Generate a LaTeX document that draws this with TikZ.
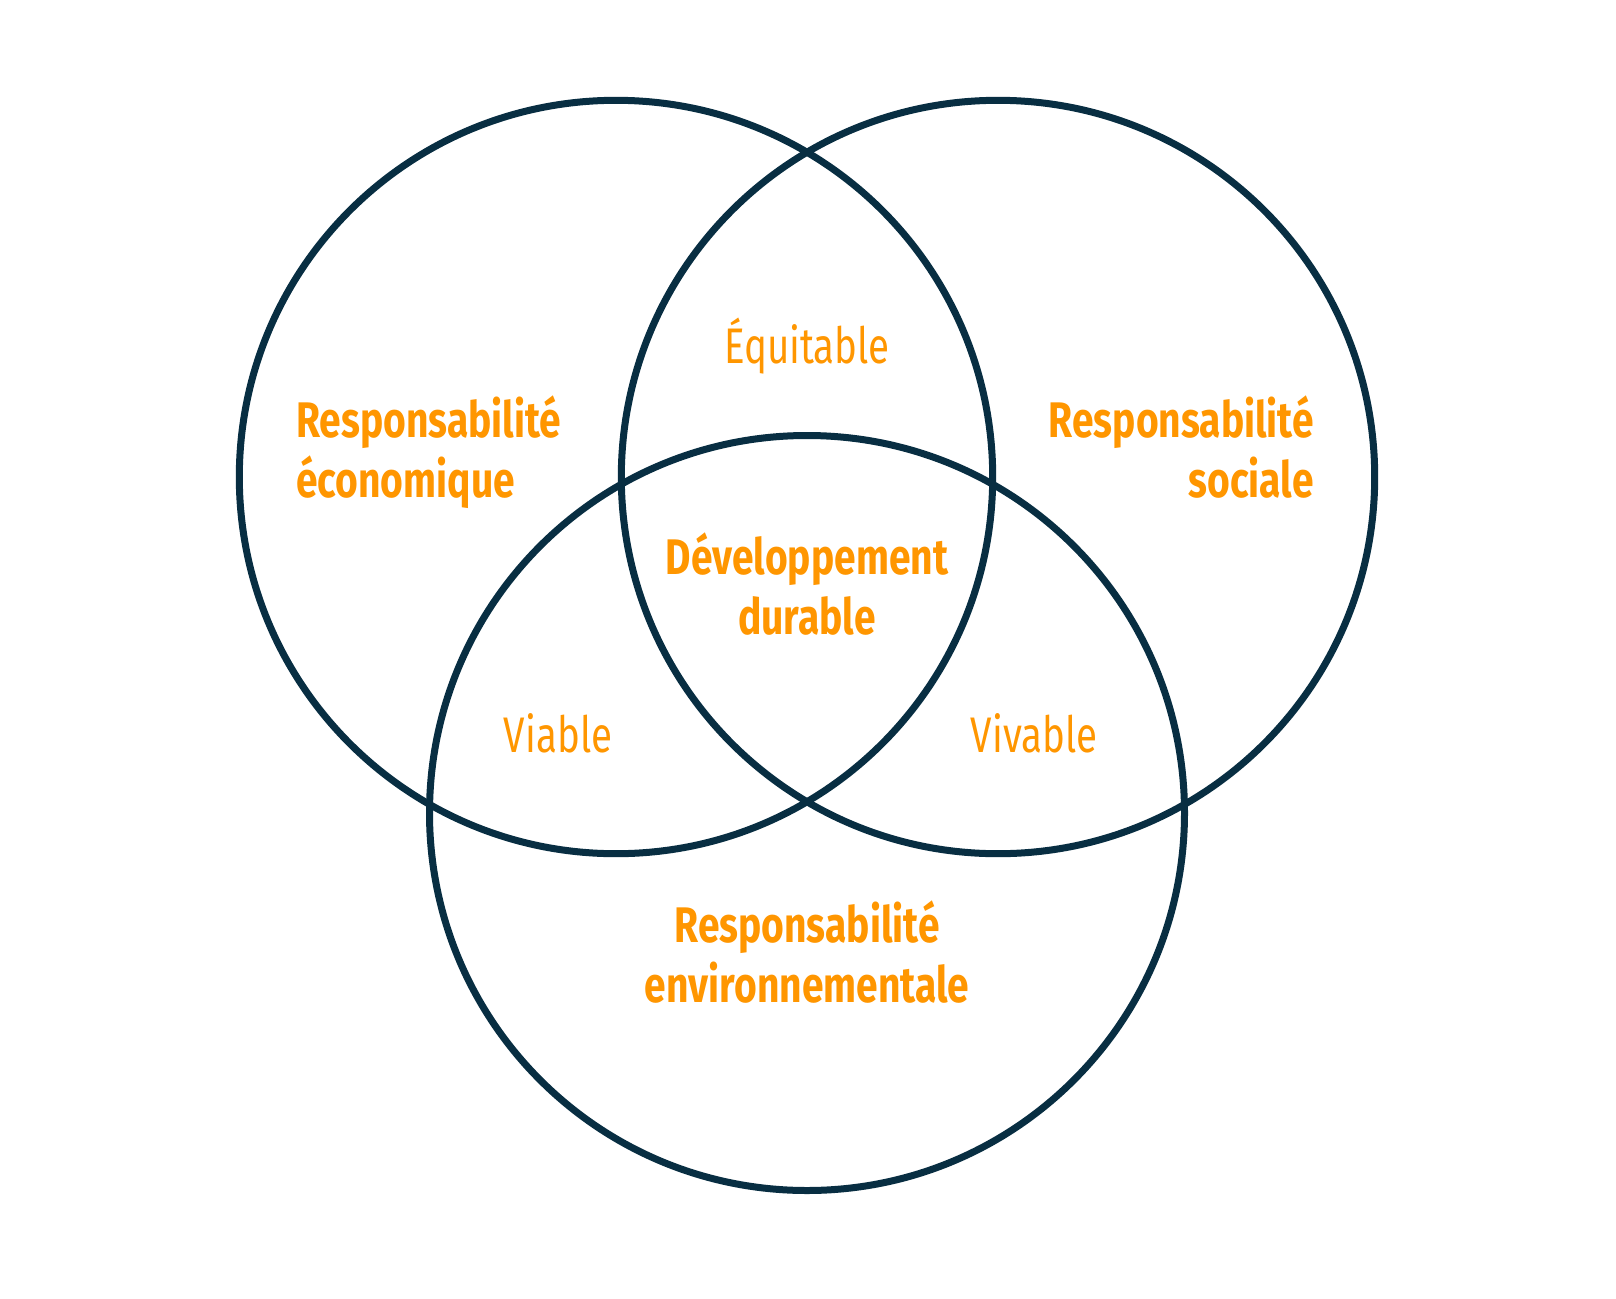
\documentclass[tikz,border=0pt]{standalone}
\usepackage{fontspec}
\setmainfont{Fira Sans}[FakeStretch=0.78]
\newfontfamily\lightfont{Fira Sans}[FakeStretch=0.77]
\definecolor{ring}{RGB}{8,46,66}
\definecolor{orng}{RGB}{255,150,0}
\begin{document}
\begin{tikzpicture}[x=1pt,y=1pt,
  ringstyle/.style={draw=ring,line width=7pt},
  bigtxt/.style={text=orng,font=\fontsize{50}{60}\selectfont\bfseries,inner sep=0pt},
  smalltxt/.style={text=orng,font=\fontsize{50}{60}\selectfont\lightfont,inner sep=0pt}]
\useasboundingbox (0,0) rectangle (1616,-1298);
\fill[white] (0,0) rectangle (1616,-1298);
\node[circle,ringstyle,minimum size=753.4pt,inner sep=0pt] (eco) at (616,-477) {};
\node[circle,ringstyle,minimum size=753.4pt,inner sep=0pt] (soc) at (998,-477) {};
\node[circle,ringstyle,minimum size=755pt,inner sep=0pt] (env) at (807,-813) {};
\node[bigtxt,anchor=base west,align=left] (teco) at (296,-497) {Responsabilité\\économique};
\node[bigtxt,anchor=base east,align=right] (tsoc) at (1314,-497) {Responsabilité\\sociale};
\node[bigtxt,anchor=base,align=center] (tenv) at (807,-1002) {Responsabilité\\environnementale};
\node[bigtxt,anchor=base,align=center] (tdd) at (807,-634) {Développement\\durable};
\node[smalltxt,anchor=base] (tequ) at (807,-363) {Équitable};
\node[smalltxt,anchor=base] (tvia) at (558,-752) {Viable};
\node[smalltxt,anchor=base] (tviv) at (1034,-752) {Vivable};
\end{tikzpicture}
\end{document}
